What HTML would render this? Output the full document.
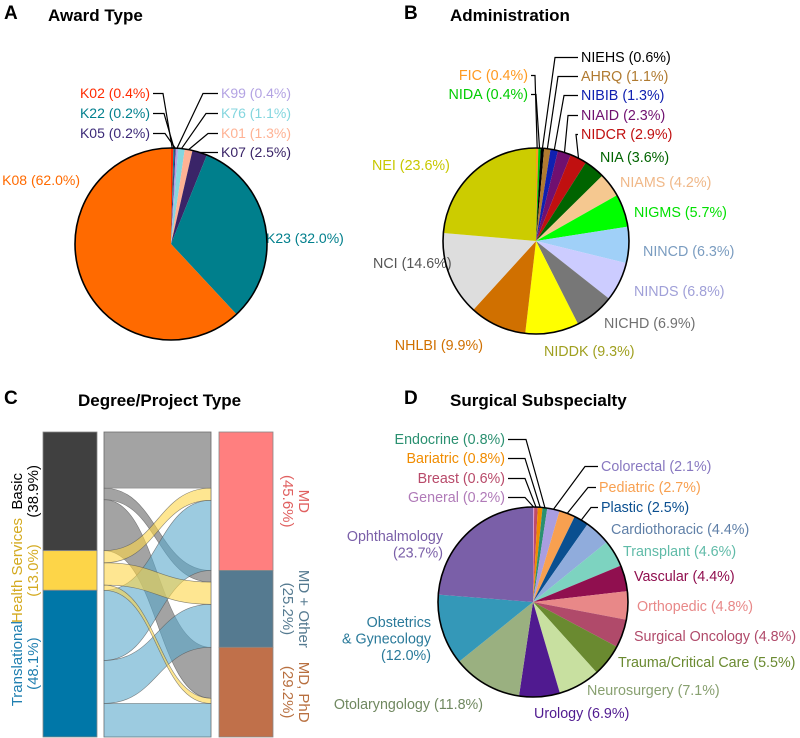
<!DOCTYPE html>
<html><head><meta charset="utf-8">
<style>
body{margin:0;background:#fff;}
svg{display:block;font-family:"Liberation Sans",Arial,sans-serif;}
.t{font-weight:bold;font-size:17px;fill:#000;}
.p{font-weight:bold;font-size:19px;fill:#000;}
</style></head>
<body>
<svg id="fig" width="800" height="738" viewBox="0 0 800 738">
<text class="p" x="4" y="19">A</text>
<text class="t" x="48" y="21">Award Type</text>
<text class="p" x="404" y="19">B</text>
<text class="t" x="450" y="21">Administration</text>
<text class="p" x="4" y="404">C</text>
<text class="t" x="78" y="406">Degree/Project Type</text>
<text class="p" x="404" y="404">D</text>
<text class="t" x="450" y="406">Surgical Subspecialty</text>
<g id="pa"></g>
<g id="pb"></g>
<g id="pc"></g>
<g id="pd"></g>
</svg>
<script>
const NS="http://www.w3.org/2000/svg";
// ---- Panel A data ----
const awardNames=["K02","K22","K05","K99","K76","K01","K07","K23","K08"];
const awardValues=[0.4,0.2,0.2,0.4,1.1,1.3,2.5,32.0,62.0];
const awardColors=["#ff2a00","#00808f","#3c2a78","#b3a3e3","#84d6df","#ffb294","#3a2468","#007f8c","#ff6a00"];
const awardText=["#ff2a00","#00808f","#3c2a78","#b3a3e3","#84d6df","#ffb294","#3a2468","#007f8c","#ff6a00"];
// layout: [x, first-baseline y, anchor, elbowX or null]
const awardLayout=[[150,98,"end",163],[150,118,"end",164],[150,138,"end",165],[221,98,"start",203],[221,118,"start",206],[221,138,"start",208],[221,157,"start",210],[266,243,"start",null],[80,185,"end",null]];
// ---- Panel B data ----
const adminNames=["FIC","NIDA","NIEHS","AHRQ","NIBIB","NIAID","NIDCR","NIA","NIAMS","NIGMS","NINCD","NINDS","NICHD","NIDDK","NHLBI","NCI","NEI"];
const adminValues=[0.4,0.4,0.6,1.1,1.3,2.3,2.9,3.6,4.2,5.7,6.3,6.8,6.9,9.3,9.9,14.6,23.6];
const adminColors=["#ff9a20","#00cc00","#000000","#b07a30","#1020b0","#701070","#c01010","#006400","#f5c890","#00ff00","#a0d0f8","#ccccff","#777777","#ffff00","#d07000","#dddddd","#cccc00"];
const adminText=["#ff9a20","#00cc00","#000000","#b07a30","#1020b0","#701070","#c01010","#006400","#f0b888","#00e000","#7a9cc0","#a0a0d8","#707070","#a0a020","#d07000","#555555","#c8c800"];
const adminLayout=[[528,80,"end",535],[528,99,"end",536],[581,62,"start",555],[581,81,"start",558],[581,100,"start",564],[581,120,"start",568],[581,139,"start",576],[600,162,"start",null],[620,187,"start",null],[634,217,"start",null],[643,256,"start",null],[634,296,"start",null],[604,328,"start",null],[544,356,"start",null],[483,350,"end",null],[373,268,"start",null],[372,170,"start",null]];
// ---- Panel C data ----
const leftCats=["Basic","Health Services","Translational"];
const leftPct=["38.9","13.0","48.1"];
const rightCats=["MD","MD + Other","MD, PhD"];
const rightPct=["45.6","25.2","29.2"];
const flowBasic=[18.4,3.8,16.7];
const flowHealth=[4.0,7.3,1.7];
const flowTrans=[23.0,14.1,11.0];
// ---- Panel D data ----
const subNames=["General","Breast","Bariatric","Endocrine","Colorectal","Pediatric","Plastic","Cardiothoracic","Transplant","Vascular","Orthopedic","Surgical Oncology","Trauma/Critical Care","Neurosurgery","Urology","Otolaryngology","Obstetrics\n& Gynecology","Ophthalmology"];
const subValues=[0.2,0.6,0.8,0.8,2.1,2.7,2.5,4.4,4.6,4.4,4.8,4.8,5.5,7.1,6.9,11.8,12.0,23.7];
const subColors=["#d59ad5","#c04a6a","#f08c00","#2a9070","#a99ee0","#f8a050","#0a4f90","#90acdc","#7dd3c0","#900f4f","#e88888","#b04a6a","#6a8a30","#c8e0a0","#501a90","#9ab080","#3498b8","#7a5fa8"];
const subText=["#b07ab8","#b84a6a","#f08c00","#2a9070","#8878c0","#f8a050","#0a4f90","#6080a8","#60bba8","#900f4f","#e88888","#b04a6a","#6a8a30","#88a070","#501a90","#708860","#2a7a9a","#7a5fa8"];
const subLayout=[[505,502,"end",525],[505,483,"end",525],[505,463,"end",525],[505,444,"end",526],[601,471,"start",585],[599,492,"start",588],[601,512,"start",591],[611,534,"start",null],[623,556,"start",null],[634,581,"start",null],[637,611,"start",null],[634,641,"start",null],[618,667,"start",null],[587,695,"start",null],[534,718,"start",null],[483,709,"end",null],[431,627,"end",null],[443,541,"end",null]];

function mk(tag,attrs,parent){const e=document.createElementNS(NS,tag);for(const k in attrs)e.setAttribute(k,attrs[k]);parent.appendChild(e);return e;}

function pie(g,cx,cy,r,names,vals,cols,tcols,layout,fs){
  const tot=vals.reduce((a,b)=>a+b,0);
  let a0=-Math.PI/2;
  vals.forEach((v,i)=>{
    const a1=a0+v/tot*2*Math.PI;
    const x0=cx+r*Math.cos(a0),y0=cy+r*Math.sin(a0),x1=cx+r*Math.cos(a1),y1=cy+r*Math.sin(a1);
    const large=(a1-a0)>Math.PI?1:0;
    const p=mk("path",{d:`M${cx},${cy}L${x0},${y0}A${r},${r} 0 ${large} 1 ${x1},${y1}Z`,fill:cols[i]},g);
    
    
    const am=(a0+a1)/2;
    const L=layout[i];
    const pct=v.toFixed(1)+"%";
    let full;
    if(names[i].includes("\n")) full=names[i].split("\n").concat(["("+pct+")"]);
    else if(names[i]==="Ophthalmology") full=["Ophthalmology","("+pct+")"];
    else full=[names[i]+" ("+pct+")"];
    const t=mk("text",{x:L[0],y:L[1],"text-anchor":L[2],fill:tcols[i],"font-size":fs},g);
    
    
    full.forEach((s,k)=>{const ts=mk("tspan",{x:L[0],y:L[1]+k*16.5},t);ts.textContent=s;});
    if(L[3]!==null){
      const ex=cx+r*Math.cos(am),ey=cy+r*Math.sin(am);
      const hx=L[2]==="end"?L[0]+3:L[0]-3;
      const ln=mk("polyline",{points:`${hx},${L[1]-4.5} ${L[3]},${L[1]-4.5} ${ex},${ey}`,fill:"none",stroke:"#000","stroke-width":1.2},g);
      
      
    }
    a0=a1;
  });
  const c=mk("circle",{cx:cx,cy:cy,r:r,fill:"none",stroke:"#000","stroke-width":1.6},g);
  
  
}
pie(document.getElementById("pa"),171,244,96,awardNames,awardValues,awardColors,awardText,awardLayout,14);
pie(document.getElementById("pb"),536,241,93,adminNames,adminValues,adminColors,adminText,adminLayout,14.3);
pie(document.getElementById("pd"),533,602,95,subNames,subValues,subColors,subText,subLayout,14.3);

// ---- Alluvial ----
(function(){
  const g=document.getElementById("pc");
  const top=432,H=305;
  const flows=[flowBasic,flowHealth,flowTrans];
  const tot=flows.flat().reduce((a,b)=>a+b,0);
  const ys=v=>v/tot*H;
  const lx0=43,lx1=97,mx0=104,mx1=211,rx0=219,rx1=273;
  const leftCols=["#404040","#fdd548","#0077a8"];
  const leftTxt=["#000000","#d4aa20","#1f7fb0"];
  const rightCols=["#ff7f7f","#557a90","#c0704a"];
  const rightTxt=["#e06060","#557a90","#b87040"];
  const flowCols=["#808080","#fdd548","#5aa8cc"];
  const flowOp=[0.72,0.6,0.6];
  const lTot=flows.map(f=>f.reduce((a,b)=>a+b,0));
  const rTot=[0,1,2].map(j=>flows.reduce((a,f)=>a+f[j],0));
  mk("rect",{x:mx0,y:top,width:mx1-mx0,height:H,fill:"#fff",stroke:"#aaa","stroke-width":1},g);
  const lStart=[];let acc=top;lTot.forEach(v=>{lStart.push(acc);acc+=ys(v);});
  const rStart=[];acc=top;rTot.forEach(v=>{rStart.push(acc);acc+=ys(v);});
  const lOff=lStart.slice(),rOff=rStart.slice();
  const paths=[];
  flows.forEach((f,i)=>f.forEach((v,j)=>{
    const h=ys(v);const ya=lOff[i],yb=rOff[j];lOff[i]+=h;rOff[j]+=h;
    paths.push({i,j,ya,yb,h});
  }));
  const xm=(mx0+mx1)/2;
  [0,2,1].forEach(ii=>paths.filter(p=>p.i===ii).forEach(p=>{
    const d=`M${mx0},${p.ya}C${xm},${p.ya} ${xm},${p.yb} ${mx1},${p.yb}L${mx1},${p.yb+p.h}C${xm},${p.yb+p.h} ${xm},${p.ya+p.h} ${mx0},${p.ya+p.h}Z`;
    const e=mk("path",{d:d,fill:flowCols[p.i],"fill-opacity":flowOp[p.i],stroke:"#555","stroke-width":0.6,"stroke-opacity":0.7},g);
    
    
  }));
  lTot.forEach((v,i)=>{
    const r=mk("rect",{x:lx0,y:lStart[i],width:lx1-lx0,height:ys(v),fill:leftCols[i],stroke:"#888","stroke-width":0.8},g);
    
    
    const cy=lStart[i]+ys(v)/2;
    const t=mk("text",{transform:`translate(22,${cy}) rotate(-90)`,"text-anchor":"middle",fill:leftTxt[i],"font-size":15},g);
    
    
    const a=mk("tspan",{x:0,y:0},t);a.textContent=leftCats[i];
    const b=mk("tspan",{x:0,y:16},t);b.textContent="("+leftPct[i]+"%)";
  });
  rTot.forEach((v,j)=>{
    const r=mk("rect",{x:rx0,y:rStart[j],width:rx1-rx0,height:ys(v),fill:rightCols[j],stroke:"#888","stroke-width":0.8},g);
    
    
    const cy=rStart[j]+ys(v)/2;
    const t=mk("text",{transform:`translate(299,${cy}) rotate(90)`,"text-anchor":"middle",fill:rightTxt[j],"font-size":15},g);
    
    
    const a=mk("tspan",{x:0,y:0},t);a.textContent=rightCats[j];
    const b=mk("tspan",{x:0,y:16},t);b.textContent="("+rightPct[j]+"%)";
  });
})();
</script>
</body></html>
